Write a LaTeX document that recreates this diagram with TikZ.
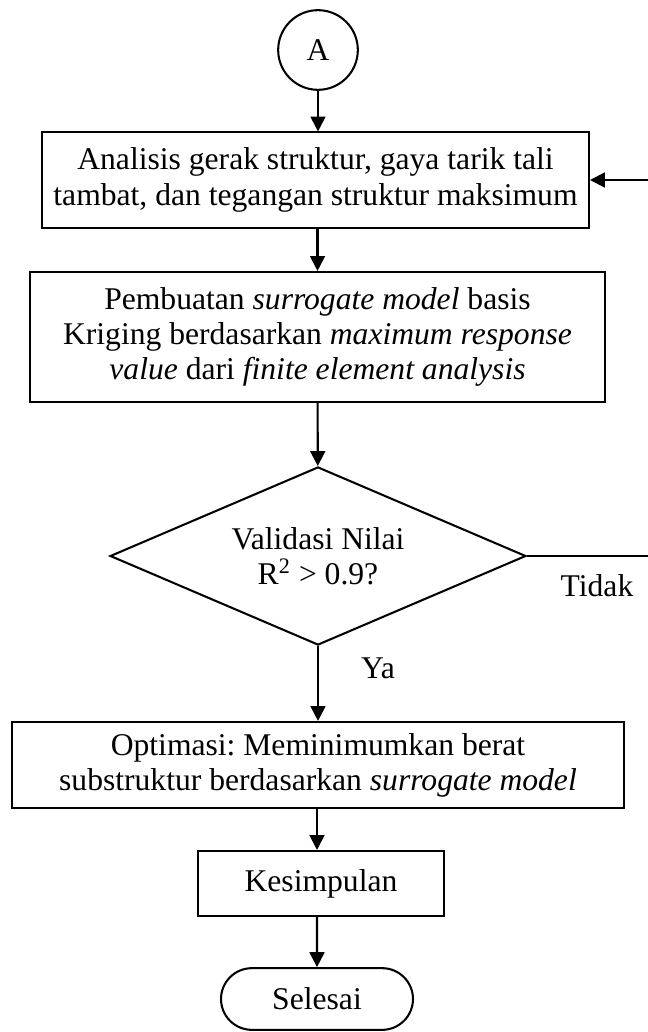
\documentclass[tikz,border=0pt]{standalone}
\usepackage{fontspec}
\setmainfont{Liberation Serif}
\frenchspacing
\usetikzlibrary{arrows.meta,shapes.geometric,shapes.misc}

\begin{document}
\begin{tikzpicture}[x=0.3891pt,y=-0.3891pt,
	font=\fontsize{12.3}{13.7}\selectfont,
	>={Triangle[length=5.8pt,width=5.8pt]},
	line width=0.8pt,
	kotak/.style={draw,rectangle,align=center,inner sep=0pt}]
	\useasboundingbox (0,0) rectangle (648,1032);

	\node[draw,circle,minimum size=31pt,inner sep=0pt] (a) at (318,50){A};
	\node[kotak,minimum width=212.8pt,minimum height=37pt] (analisis) at (315.5,180){Analisis gerak struktur, gaya tarik tali\\tambat, dan tegangan struktur maksimum};
	\node[kotak,minimum width=223.7pt,minimum height=50.6pt] (model) at (317.5,337){Pembuatan \textit{surrogate model} basis\\Kriging berdasarkan \textit{maximum response}\\\textit{value} dari \textit{finite element analysis}};
	\node[draw,diamond,aspect=2.34,align=center,inner sep=0pt,minimum width=161.8pt,minimum height=69.3pt] (validasi) at (318,556){Validasi Nilai\\R\textsuperscript{2} > 0.9?};
	\node[kotak,minimum width=238pt,minimum height=33.5pt] (optimasi) at (318,765){Optimasi: Meminimumkan berat\\substruktur berdasarkan \textit{surrogate model}};
	\node[kotak,minimum width=96pt,minimum height=25.3pt] (kesimpulan) at (321,883.5){Kesimpulan};
	\node[draw,rounded rectangle,minimum width=74.7pt,minimum height=24pt,inner sep=0pt] (selesai) at (317,999){Selesai};
	\coordinate (balik) at (654,556);

	\node (tidak) at (597,586){Tidak};
	\node (ya) at (378,668){Ya};

	\draw[->] (a) -- (a |- analisis.north);
	\draw[->] (analisis.south -| model) -- (model);
	\draw[->] (model) -- (validasi);
	\draw[->] (validasi) -- (optimasi);
	\draw[->] (optimasi.south -| selesai) -- (selesai |- kesimpulan.north);
	\draw[->] (selesai |- kesimpulan.south) -- (selesai);
	\draw[->] (validasi.east) -- (balik) |- (analisis.east);
\end{tikzpicture}
\end{document}
